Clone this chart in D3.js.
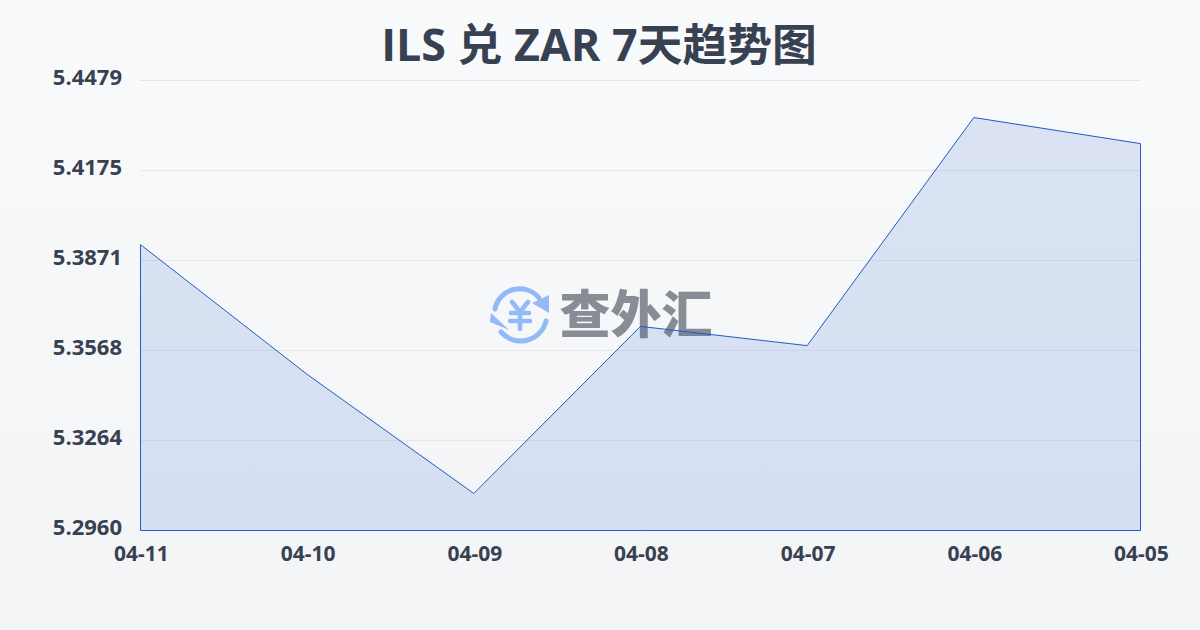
<!DOCTYPE html>
<html lang="zh">
  <head>
    <meta charset="utf-8" />
    <title>ILS 兑 ZAR 7天趋势图</title>
    <script src="https://d3js.org/d3.v7.min.js"></script>
    <style type="text/css">
      html, body { margin: 0; padding: 0; }
      svg { display: block; font-family: "Open Sans", "Noto Sans CJK SC", sans-serif; }
    </style>
  </head>
  <body>
    <svg id="chart" width="1200" height="630"></svg>
    <script type="text/javascript">
      // values
      const dates = ["04-11", "04-10", "04-09", "04-08", "04-07", "04-06", "04-05"];
      const rates = [5.3925, 5.3487, 5.3085, 5.3649, 5.3584, 5.4354, 5.4266];
      const yTicks = [5.2960, 5.3264, 5.3568, 5.3871, 5.4175, 5.4479];
      const titleText = "ILS 兑 ZAR 7天趋势图";
      const logoText = "查外汇";

      const w = 1200;
      const h = 630;
      const margin = {top: 80, right: 60, bottom: 100, left: 140};
      const textColor = "#374151";

      const svg = d3.select("#chart");

      // background gradient
      const defs = svg.append("defs");
      const bg = defs.append("linearGradient").attr("id", "bg")
            .attr("x1", 0).attr("y1", 0).attr("x2", 0).attr("y2", 1);
      bg.append("stop").attr("offset", "0%").attr("stop-color", "#f9fafb");
      bg.append("stop").attr("offset", "100%").attr("stop-color", "#f3f4f6");
      svg.append("rect").attr("width", w).attr("height", h).attr("fill", "url(#bg)");

      const x = d3.scalePoint()
            .domain(dates)
            .range([margin.left, w - margin.right]);
      const y = d3.scaleLinear()
            .domain([yTicks[0], yTicks[yTicks.length - 1]])
            .range([h - margin.bottom, margin.top]);

      // title
      svg.append("text")
            .text(titleText)
            .attr("x", 599)
            .attr("y", 61)
            .attr("text-anchor", "middle")
            .attr("font-size", "44.8px")
            .attr("font-weight", 700)
            .attr("fill", textColor);

      // grid lines
      svg.append("g")
            .selectAll("line")
            .data(yTicks)
            .enter()
            .append("line")
            .attr("x1", margin.left)
            .attr("x2", w - margin.right)
            .attr("y1", d => Math.round(y(d)) + 0.5)
            .attr("y2", d => Math.round(y(d)) + 0.5)
            .attr("stroke", "#e5e7eb")
            .attr("stroke-width", 1);

      // watermark sits under the area
      const logo = svg.append("g").attr("transform", "translate(520,315)");
      const blue = "#93b9f8";
      logo.append("path")
            .attr("d", "M-25,-6 A25,25 0 0 1 19,-17")
            .attr("fill", "none").attr("stroke", blue).attr("stroke-width", 5).attr("stroke-linecap", "round");
      logo.append("path").attr("d", "M12,-12 L29,-20 L29,-2 Z").attr("fill", blue);
      logo.append("path")
            .attr("d", "M26,6 A26,26 0 0 1 -19,17")
            .attr("fill", "none").attr("stroke", blue).attr("stroke-width", 5).attr("stroke-linecap", "round");
      logo.append("path").attr("d", "M-11,15 L-30,7 L-29,-2 Z").attr("fill", blue);
      logo.append("path")
            .attr("d", "M-8,-13 L0,-3 L8,-13 M-9,-2 H9 M-10,6 H10 M0,-3 V14")
            .attr("fill", "none").attr("stroke", blue).attr("stroke-width", 4.5).attr("stroke-linecap", "round");
      svg.append("text")
            .text(logoText)
            .attr("x", 636)
            .attr("y", 333)
            .attr("text-anchor", "middle")
            .attr("font-family", "'Noto Sans CJK SC'")
            .attr("font-size", "51px")
            .attr("font-weight", 900)
            .attr("fill", "#888c94");

      // area and line, half pixel over so the edges stay crisp
      const area = d3.area()
            .x((d, i) => x(dates[i]))
            .y0(y(yTicks[0]))
            .y1(d => y(d));
      svg.append("path")
            .datum(rates)
            .attr("d", area)
            .attr("transform", "translate(0.5,0.5)")
            .attr("fill", "#2259d0")
            .attr("fill-opacity", 0.14)
            .attr("stroke", "#2259c4")
            .attr("stroke-width", 1);

      // y labels
      svg.append("g")
            .selectAll("text")
            .data(yTicks)
            .enter()
            .append("text")
            .text(d => d.toFixed(4))
            .attr("x", 122)
            .attr("y", d => y(d) + 5)
            .attr("text-anchor", "end")
            .attr("font-size", "22px")
            .attr("font-weight", 700)
            .attr("fill", textColor);

      // x labels
      svg.append("g")
            .selectAll("text")
            .data(dates)
            .enter()
            .append("text")
            .text(d => d)
            .attr("x", d => x(d) + 1.5)
            .attr("y", 561)
            .attr("text-anchor", "middle")
            .attr("font-size", "21px")
            .attr("font-weight", 700)
            .attr("fill", textColor);
    </script>
  </body>
</html>
